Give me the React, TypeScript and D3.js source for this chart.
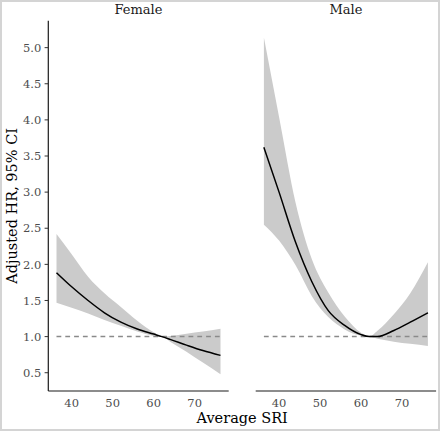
import React from "react";
import * as d3 from "d3";

// ---- data ----
const sriGrid = [36.3, 40, 44, 48, 52, 56, 60, 62, 64, 68, 72, 76.3];

const femaleHR = [1.885, 1.69, 1.5, 1.33, 1.2, 1.105, 1.035, 1.0, 0.962, 0.882, 0.807, 0.74];
const femaleLower = [1.47, 1.4, 1.32, 1.23, 1.15, 1.07, 1.01, 1.0, 0.93, 0.79, 0.64, 0.48];
const femaleUpper = [2.42, 2.14, 1.83, 1.6, 1.41, 1.22, 1.06, 1.0, 1.01, 1.04, 1.07, 1.11];

const maleHR = [3.62, 3.0, 2.31, 1.76, 1.36, 1.155, 1.027, 1.0, 1.0, 1.085, 1.2, 1.33];
const maleLower = [2.55, 2.33, 1.99, 1.56, 1.27, 1.1, 1.012, 1.0, 0.97, 0.93, 0.9, 0.87];
const maleUpper = [5.14, 4.04, 2.86, 2.07, 1.61, 1.28, 1.055, 1.0, 1.08, 1.31, 1.6, 2.03];

const panelNames = ["Female", "Male"];
const xTicks = [40, 50, 60, 70];
const yTicks = [0.5, 1.0, 1.5, 2.0, 2.5, 3.0, 3.5, 4.0, 4.5, 5.0];
const refHR = 1;
const xTitle = "Average SRI";
const yTitle = "Adjusted HR, 95% CI";

const FONT = "'DejaVu Serif', serif";

export default function App() {
  const W = 440;
  const H = 431;
  const panelTop = 20.7;
  const panelBottom = 391;
  const panelLefts = [48.3, 255.7];
  const panelW = 180.4;

  const all = [...femaleLower, ...femaleUpper, ...maleLower, ...maleUpper];
  const yLo = d3.min(all) as number;
  const yHi = d3.max(all) as number;
  const yPad = (yHi - yLo) * 0.05;
  const y = d3.scaleLinear().domain([yLo - yPad, yHi + yPad]).range([panelBottom, panelTop]);

  const [xa, xb] = d3.extent(sriGrid) as [number, number];
  const xPad = (xb - xa) * 0.05;

  const series = [
    { hr: femaleHR, lo: femaleLower, up: femaleUpper },
    { hr: maleHR, lo: maleLower, up: maleUpper },
  ];

  return (
    <svg
      width={W}
      height={H}
      style={{ position: "absolute", left: 0, top: 0, background: "#fff" }}
      fontFamily={FONT}
    >
      <rect x={1} y={1} width={W - 2} height={H - 2} fill="#fff" stroke="#d4d4d4" strokeWidth={2} />
      {panelNames.map((name, pi) => {
        const x0 = panelLefts[pi];
        const x = d3.scaleLinear().domain([xa - xPad, xb + xPad]).range([x0, x0 + panelW]);
        const s = series[pi];
        const idx = sriGrid.map((_, i) => i);
        const area = d3
          .area<number>()
          .x((i) => x(sriGrid[i]))
          .y0((i) => y(s.lo[i]))
          .y1((i) => y(s.up[i]))
          .curve(d3.curveMonotoneX);
        const line = d3
          .line<number>()
          .x((i) => x(sriGrid[i]))
          .y((i) => y(s.hr[i]))
          .curve(d3.curveMonotoneX);
        return (
          <g key={name}>
            <text
              x={x0 + panelW / 2}
              y={13.5}
              textAnchor="middle"
              fontSize={13}
              fill="#1a1a1a"
            >
              {name}
            </text>
            <path d={area(idx) || ""} fill="#cbcbcb" stroke="none" />
            <line
              x1={x(xa)}
              x2={x(xb)}
              y1={y(refHR)}
              y2={y(refHR)}
              stroke="#8a8a8a"
              strokeWidth={1.5}
              strokeDasharray="4.8,4"
            />
            <path d={line(idx) || ""} fill="none" stroke="#000" strokeWidth={1.5} />
            {/* x axis */}
            <line x1={x0} x2={x0 + panelW} y1={panelBottom} y2={panelBottom} stroke="#1a1a1a" strokeWidth={1.2} />
            {xTicks.map((t) => (
              <text
                key={t}
                x={x(t)}
                y={406.5}
                textAnchor="middle"
                fontSize={11.5}
                fill="#4d4d4d"
              >
                {t}
              </text>
            ))}
            {pi === 0 && (
              <g>
                <line x1={x0} x2={x0} y1={panelTop} y2={panelBottom} stroke="#1a1a1a" strokeWidth={1.2} />
                {yTicks.map((t) => (
                  <g key={t}>
                    <line x1={x0 - 3.7} x2={x0} y1={y(t)} y2={y(t)} stroke="#333" strokeWidth={1} />
                    <text
                      x={x0 - 7}
                      y={y(t)}
                      dy="0.36em"
                      textAnchor="end"
                      fontSize={11.5}
                      fill="#4d4d4d"
                    >
                      {d3.format(".1f")(t)}
                    </text>
                  </g>
                ))}
              </g>
            )}
          </g>
        );
      })}
      <text
        x={(panelLefts[0] + panelLefts[1] + panelW) / 2}
        y={422.5}
        textAnchor="middle"
        fontSize={14.5}
        fill="#000"
      >
        {xTitle}
      </text>
      <text
        transform={`translate(16.5, ${(panelTop + panelBottom) / 2}) rotate(-90)`}
        textAnchor="middle"
        fontSize={14.5}
        fill="#000"
      >
        {yTitle}
      </text>
    </svg>
  );
}
